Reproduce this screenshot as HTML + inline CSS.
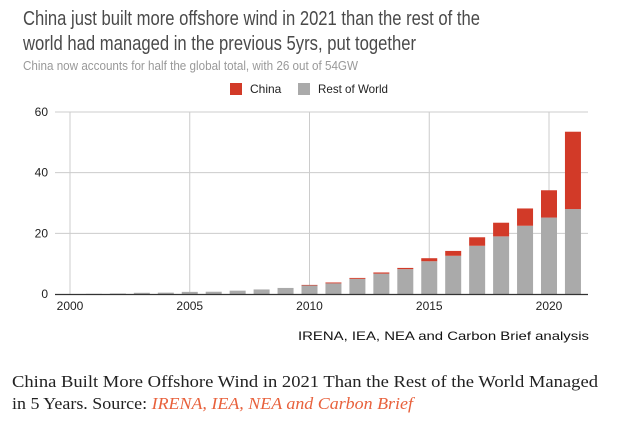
<!DOCTYPE html>
<html><head><meta charset="utf-8"><style>
html,body{margin:0;padding:0;background:#fff;}
svg{display:block;}
</style></head><body>
<svg width="624" height="421" viewBox="0 0 624 421" xmlns="http://www.w3.org/2000/svg">
<text x="23" y="25" font-family="Liberation Sans, sans-serif" font-size="20" fill="#4a4a4a" textLength="457" lengthAdjust="spacingAndGlyphs">China just built more offshore wind in 2021 than the rest of the</text>
<text x="23" y="50" font-family="Liberation Sans, sans-serif" font-size="20" fill="#4a4a4a" textLength="393" lengthAdjust="spacingAndGlyphs">world had managed in the previous 5yrs, put together</text>
<text x="23" y="70" font-family="Liberation Sans, sans-serif" font-size="13" fill="#999" textLength="335" lengthAdjust="spacingAndGlyphs">China now accounts for half the global total, with 26 out of 54GW</text>
<g font-family="Liberation Sans, sans-serif" font-size="12" fill="#222">
<rect x="230" y="83" width="12" height="12" fill="#d23a28"/>
<text x="250" y="93">China</text>
<rect x="298" y="83" width="12" height="12" fill="#aaa"/>
<text x="318" y="93" textLength="70" lengthAdjust="spacingAndGlyphs">Rest of World</text>
</g>
<g id="grid"></g>
<g id="bars"></g>
<g id="axes"></g>
<text x="589" y="340" text-anchor="end" font-family="Liberation Sans, sans-serif" font-size="12" fill="#111" textLength="291" lengthAdjust="spacingAndGlyphs">IRENA, IEA, NEA and Carbon Brief analysis</text>
<text x="12" y="387" font-family="Liberation Serif, serif" font-size="17" fill="#222" textLength="586" lengthAdjust="spacingAndGlyphs">China Built More Offshore Wind in 2021 Than the Rest of the World Managed</text>
<text x="12" y="409" font-family="Liberation Serif, serif" font-size="17" fill="#222" textLength="401" lengthAdjust="spacingAndGlyphs">in 5 Years. Source: <tspan font-style="italic" fill="#e8613c">IRENA, IEA, NEA and Carbon Brief</tspan></text>
</svg>
<script>
const years=[2000,2001,2002,2003,2004,2005,2006,2007,2008,2009,2010,2011,2012,2013,2014,2015,2016,2017,2018,2019,2020,2021];
const restOfWorld=[0,0.05,0.15,0.4,0.45,0.7,0.75,1.1,1.5,2.0,2.8,3.5,5.0,6.7,8.2,10.8,12.6,15.9,19.0,22.5,25.2,28.0];
const china=[0,0,0,0,0,0,0,0,0,0,0.2,0.3,0.3,0.4,0.4,1.0,1.6,2.8,4.5,5.7,9.0,25.5];
const yTicks=[0,20,40,60];
const xTicks=[2000,2005,2010,2015,2020];
const NS='http://www.w3.org/2000/svg';
const y=v=>294-v*(182/60);
const x=yr=>70+(yr-2000)*23.95;
function mk(tag,attrs,parent){const e=document.createElementNS(NS,tag);for(const k in attrs)e.setAttribute(k,attrs[k]);parent.appendChild(e);return e;}
const grid=document.getElementById('grid'),bars=document.getElementById('bars'),axes=document.getElementById('axes');
yTicks.forEach(t=>{
 if(t>0){const l=mk('line',{x1:55,x2:588,y1:y(t),y2:y(t),stroke:'#ccc','stroke-width':1},grid);
 
 }
 const tx=mk('text',{x:48,y:y(t)+4,'text-anchor':'end','font-family':'Liberation Sans, sans-serif','font-size':12,fill:'#222'},axes);
 tx.textContent=t;
 
 
});
xTicks.forEach(t=>{
 const l=mk('line',{x1:x(t),x2:x(t),y1:112,y2:294,stroke:'#ccc','stroke-width':1},grid);
 
 
 const tx=mk('text',{x:x(t),y:310,'text-anchor':'middle','font-family':'Liberation Sans, sans-serif','font-size':12,fill:'#222'},axes);
 tx.textContent=t;
 
 
});
years.forEach((yr,i)=>{
 const w=16,cx=x(yr);
 const r=restOfWorld[i],c=china[i];
 if(r>0){const b=mk('rect',{x:cx-w/2,y:y(r),width:w,height:y(0)-y(r),fill:'#aaa'},bars);
 
 }
 if(c>0){const b=mk('rect',{x:cx-w/2,y:y(r+c),width:w,height:y(r)-y(r+c),fill:'#d23a28'},bars);
 
 }
});
const ax=mk('line',{x1:55,x2:588,y1:294.5,y2:294.5,stroke:'#333','stroke-width':1.2},axes);


</script>
</body></html>
